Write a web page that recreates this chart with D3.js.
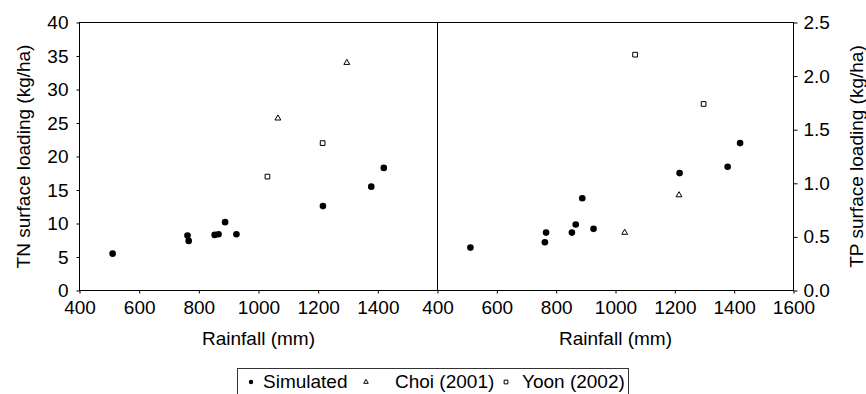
<!DOCTYPE html>
<html>
<head>
  <title>TN and TP surface loading vs rainfall</title>
  <style>
    body { margin: 0; background: #fff; }
    svg text { font-family: 'Liberation Sans', Arial, sans-serif; fill: #000; }
    .axis path, .axis line { stroke: #000; stroke-width: 1; }
    .axis text { font-size: 19px; }
    .frame { stroke: #000; stroke-width: 1; fill: none; }
    .title { font-size: 19px; text-anchor: middle; }
    .dot { fill: #000; }
    .open { fill: #fff; stroke: #000; stroke-width: 1; }
  </style>
</head>
<body>
<svg id="chart"></svg>
<script src="https://cdn.jsdelivr.net/npm/d3@7"></script>
<script>
// simulated points (same rainfall for both panels)
var simRain = [511, 762, 766, 853, 866, 888, 926, 1216, 1378, 1420];
var simTN   = [5.5, 8.2, 7.4, 8.3, 8.4, 10.2, 8.4, 12.6, 15.5, 18.3];
var simTP   = [0.40, 0.45, 0.54, 0.54, 0.615, 0.86, 0.575, 1.095, 1.155, 1.375];

// Choi (2001)
var choiRainTN = [1065, 1296];
var choiTN     = [25.7, 34.0];
var choiRainTP = [1031, 1214];
var choiTP     = [0.54, 0.89];

// Yoon (2002)
var yoonRainTN = [1030, 1215];
var yoonTN     = [17.0, 22.0];
var yoonRainTP = [1066, 1297];
var yoonTP     = [2.20, 1.74];

var xTicksLeft  = [400, 600, 800, 1000, 1200, 1400];
var xTicksRight = [400, 600, 800, 1000, 1200, 1400, 1600];
var yTicksTN = [0, 5, 10, 15, 20, 25, 30, 35, 40];
var yTicksTP = [0, 0.5, 1.0, 1.5, 2.0, 2.5];

var legendNames = ['Simulated', 'Choi (2001)', 'Yoon (2002)'];

var width = 866, height = 394;
var top_ = 22.5, bottom = 290.5;
var left = 79.5, mid = 437.5, right = 793.5;

var svg = d3.select('#chart')
  .attr('width', width)
  .attr('height', height);

var xL = d3.scaleLinear().domain([400, 1600]).range([left, mid]);
var xR = d3.scaleLinear().domain([400, 1600]).range([mid, right]);
var yL = d3.scaleLinear().domain([0, 40]).range([bottom, top_]);
var yR = d3.scaleLinear().domain([0, 2.5]).range([bottom, top_]);

// axes
svg.append('g').attr('class', 'axis')
  .attr('transform', 'translate(0,' + bottom + ')')
  .call(d3.axisBottom(xL).tickValues(xTicksLeft).tickFormat(d3.format('d')).tickSize(3).tickPadding(7).tickSizeOuter(0));
svg.append('g').attr('class', 'axis')
  .attr('transform', 'translate(0,' + bottom + ')')
  .call(d3.axisBottom(xR).tickValues(xTicksRight).tickFormat(d3.format('d')).tickSize(3).tickPadding(7).tickSizeOuter(0));
svg.append('g').attr('class', 'axis')
  .attr('transform', 'translate(' + left + ',0)')
  .call(d3.axisLeft(yL).tickValues(yTicksTN).tickSize(3).tickPadding(8).tickSizeOuter(0));
svg.append('g').attr('class', 'axis')
  .attr('transform', 'translate(' + right + ',0)')
  .call(d3.axisRight(yR).tickValues(yTicksTP).tickFormat(d3.format('.1f')).tickSize(4).tickPadding(6).tickSizeOuter(0));

svg.selectAll('.axis .domain').remove();

// frame
svg.append('rect').attr('class', 'frame')
  .attr('x', left).attr('y', top_)
  .attr('width', right - left).attr('height', bottom - top_);
svg.append('line').attr('class', 'frame')
  .attr('x1', mid).attr('x2', mid).attr('y1', top_).attr('y2', bottom);

// axis titles
svg.append('text').attr('class', 'title')
  .attr('x', (left + mid) / 2).attr('y', 345).text('Rainfall (mm)');
svg.append('text').attr('class', 'title')
  .attr('x', (mid + right) / 2).attr('y', 345).text('Rainfall (mm)');
svg.append('text').attr('class', 'title')
  .attr('transform', 'translate(30,' + (top_ + bottom) / 2 + ') rotate(-90)')
  .text('TN surface loading (kg/ha)');
svg.append('text').attr('class', 'title')
  .attr('transform', 'translate(863,' + (top_ + bottom) / 2 + ') rotate(-90)')
  .text('TP surface loading (kg/ha)');

var tri = d3.symbol().type(d3.symbolTriangle).size(15);
var sq = d3.symbol().type(d3.symbolSquare).size(22);

function drawPanel(x, y, simY, cRain, cVal, yRain, yVal) {
  var g = svg.append('g');
  g.selectAll('circle')
    .data(simRain.map((r, i) => [r, simY[i]]))
    .enter()
    .append('circle')
    .attr('cx', d => x(d[0]))
    .attr('cy', d => y(d[1]))
    .attr('r', 3.3)
    .attr('class', 'dot');
  g.selectAll('path.tri')
    .data(cRain.map((r, i) => [r, cVal[i]]))
    .enter()
    .append('path')
    .attr('class', 'tri open')
    .attr('d', tri)
    .attr('transform', d => 'translate(' + x(d[0]) + ',' + y(d[1]) + ')');
  g.selectAll('path.sq')
    .data(yRain.map((r, i) => [r, yVal[i]]))
    .enter()
    .append('path')
    .attr('class', 'sq open')
    .attr('d', sq)
    .attr('transform', d => 'translate(' + x(d[0]) + ',' + y(d[1]) + ')');
}

drawPanel(xL, yL, simTN, choiRainTN, choiTN, yoonRainTN, yoonTN);
drawPanel(xR, yR, simTP, choiRainTP, choiTP, yoonRainTP, yoonTP);

// legend (box runs off the bottom edge)
var lg = svg.append('g');
lg.append('rect').attr('class', 'frame')
  .attr('x', 237.5).attr('y', 368.5).attr('width', 391).attr('height', 40)
  .style('stroke', '#333');
var markX = [251, 366, 506];
var textX = [263, 395, 522];
lg.append('circle').attr('class', 'dot').attr('cx', markX[0]).attr('cy', 382).attr('r', 2.2);
lg.append('path').attr('class', 'open').attr('d', d3.symbol().type(d3.symbolTriangle).size(9))
  .attr('transform', 'translate(' + markX[1] + ',382)');
lg.append('path').attr('class', 'open').attr('d', d3.symbol().type(d3.symbolSquare).size(14))
  .attr('transform', 'translate(' + markX[2] + ',382)');
lg.selectAll('text.leg')
  .data(legendNames)
  .enter()
  .append('text')
  .attr('class', 'leg')
  .attr('x', (d, i) => textX[i])
  .attr('y', 388)
  .style('font-size', '19px')
  .text(d => d);
</script>
</body>
</html>
